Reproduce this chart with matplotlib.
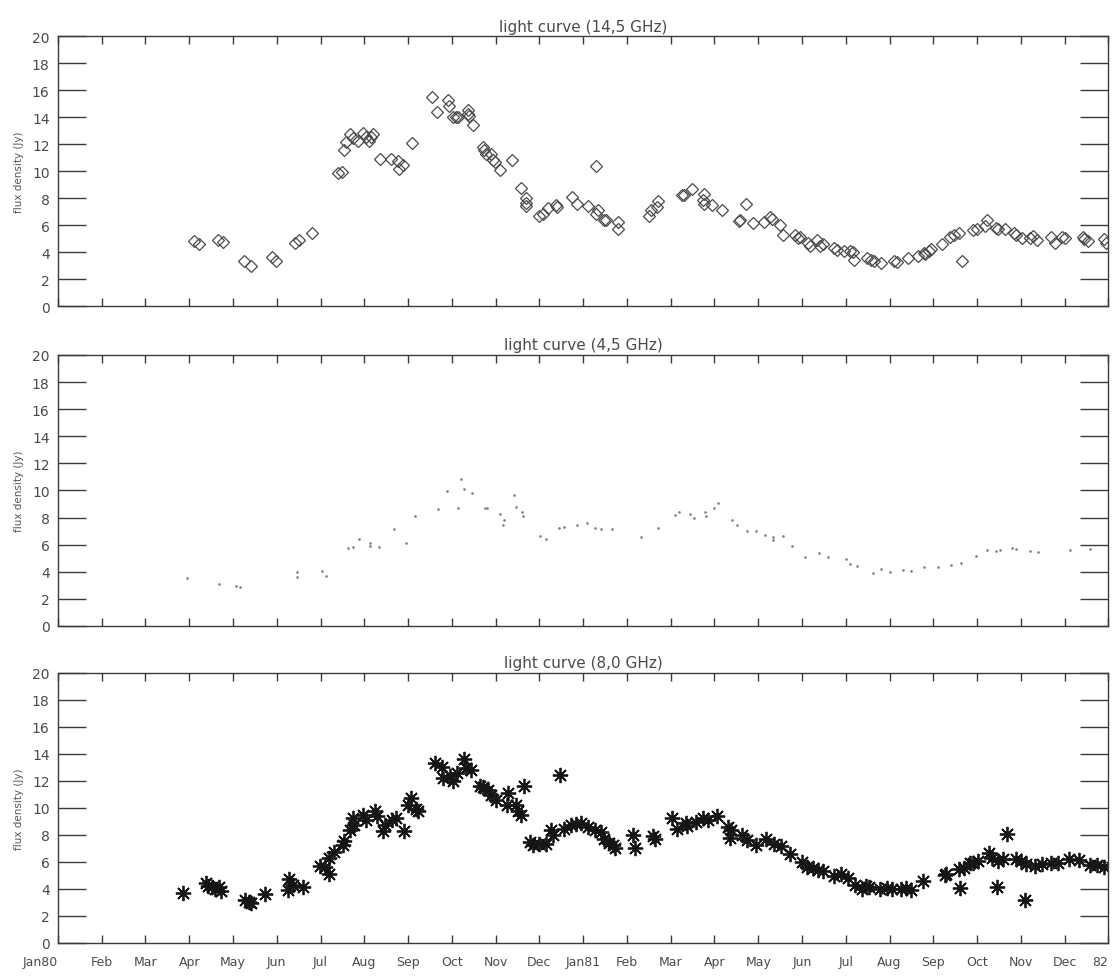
import numpy as np
import matplotlib.pyplot as plt

# time axis: months since 1 Jan 1980
month_names = ['Jan80', 'Feb', 'Mar', 'Apr', 'May', 'Jun', 'Jul', 'Aug', 'Sep', 'Oct', 'Nov', 'Dec',
               'Jan81', 'Feb', 'Mar', 'Apr', 'May', 'Jun', 'Jul', 'Aug', 'Sep', 'Oct', 'Nov', 'Dec', '82']

# 14.5 GHz
t145 = [3.11, 3.23, 3.66, 3.78, 4.24, 4.41, 4.90, 4.98, 5.41, 5.51, 5.81, 6.40, 6.49, 6.53, 6.59,
        6.67, 6.75, 6.85, 6.98, 7.03, 7.10, 7.15, 7.20, 7.36, 7.60, 7.76, 7.79, 7.89, 8.09, 8.54,
        8.66, 8.91, 8.93, 9.03, 9.09, 9.13, 9.37, 9.37, 9.39, 9.48, 9.70, 9.74, 9.78, 9.90, 9.94,
        9.98, 10.10, 10.37, 10.59, 10.70, 10.70, 10.70, 11.00, 11.08, 11.20, 11.38, 11.40, 11.74,
        11.86, 12.12, 12.29, 12.30, 12.35, 12.48, 12.52, 12.80, 12.80, 13.50, 13.56, 13.68, 13.71,
        14.26, 14.30, 14.48, 14.74, 14.77, 14.77, 14.94, 15.17, 15.56, 15.58, 15.71, 15.87, 16.14,
        16.27, 16.31, 16.50, 16.56, 16.84, 16.90, 16.96, 17.14, 17.19, 17.35, 17.40, 17.48, 17.73,
        17.80, 17.97, 18.09, 18.17, 18.19, 18.49, 18.57, 18.65, 18.80, 19.10, 19.16, 19.42, 19.66,
        19.78, 19.82, 19.90, 19.94, 20.20, 20.37, 20.47, 20.59, 20.65, 20.90, 20.99, 21.18, 21.22,
        21.42, 21.48, 21.64, 21.85, 21.88, 22.02, 22.20, 22.27, 22.36, 22.69, 22.77, 22.93, 23.01,
        23.41, 23.45, 23.53, 23.91, 23.94]
f145 = [4.80, 4.57, 4.86, 4.74, 3.34, 2.94, 3.62, 3.37, 4.70, 4.90, 5.45, 9.85, 9.97, 11.57, 12.18,
        12.78, 12.48, 12.20, 12.80, 12.50, 12.20, 12.56, 12.75, 10.87, 10.92, 10.72, 10.15, 10.42,
        12.10, 15.50, 14.40, 15.26, 14.80, 14.00, 14.00, 14.00, 14.50, 14.20, 14.05, 13.40, 11.78,
        11.53, 11.30, 11.30, 10.84, 10.64, 10.05, 10.85, 8.73, 8.00, 7.67, 7.40, 6.70, 6.82, 7.27,
        7.50, 7.36, 8.10, 7.55, 7.38, 10.35, 6.83, 7.15, 6.36, 6.40, 6.23, 5.70, 6.64, 7.12, 7.37,
        7.80, 8.20, 8.20, 8.70, 7.85, 8.30, 7.60, 7.50, 7.15, 6.30, 6.40, 7.60, 6.15, 6.20, 6.57,
        6.45, 6.00, 5.30, 5.27, 5.07, 5.15, 4.67, 4.43, 4.90, 4.44, 4.60, 4.32, 4.13, 4.05, 4.05,
        3.98, 3.42, 3.58, 3.39, 3.35, 3.20, 3.36, 3.30, 3.54, 3.72, 3.92, 3.88, 4.10, 4.20, 4.59,
        5.10, 5.27, 5.45, 3.35, 5.66, 5.73, 5.95, 6.40, 5.80, 5.70, 5.74, 5.40, 5.25, 5.03, 5.03,
        5.22, 4.93, 5.12, 4.71, 5.12, 5.05, 5.12, 4.98, 4.79, 5.00, 4.70]

# 4.5 GHz
t45 = [2.95, 3.68, 4.07, 4.15, 5.46, 5.46, 6.04, 6.12, 6.63, 6.73, 6.87, 7.14, 7.14, 7.33, 7.67,
       7.95, 8.15, 8.68, 8.90, 9.13, 9.21, 9.28, 9.47, 9.76, 9.80, 10.10, 10.18, 10.17, 10.43,
       10.47, 10.61, 10.62, 11.02, 11.16, 11.45, 11.57, 11.86, 12.08, 12.28, 12.40, 12.65, 13.33,
       13.72, 14.10, 14.18, 14.44, 14.54, 14.78, 14.80, 15.00, 15.09, 15.41, 15.51, 15.75, 15.95,
       16.15, 16.33, 16.33, 16.56, 16.76, 17.06, 17.39, 17.60, 18.00, 18.09, 18.25, 18.61, 18.81,
       19.02, 19.30, 19.50, 19.78, 20.10, 20.41, 20.63, 20.98, 21.22, 21.44, 21.52, 21.80, 21.88,
       22.20, 22.38, 23.13, 23.57]
f45 = [3.52, 3.06, 2.96, 2.90, 3.63, 4.00, 4.03, 3.67, 5.75, 5.83, 6.38, 6.15, 5.90, 5.86, 7.14,
       6.13, 8.13, 8.63, 9.98, 8.70, 10.84, 10.10, 9.83, 8.72, 8.72, 8.28, 7.84, 7.48, 9.67, 8.75,
       8.42, 8.10, 6.66, 6.43, 7.24, 7.33, 7.48, 7.56, 7.25, 7.13, 7.14, 6.56, 7.24, 8.18, 8.38,
       8.24, 7.96, 8.41, 8.15, 8.71, 9.07, 7.80, 7.47, 6.97, 6.98, 6.68, 6.57, 6.33, 6.63, 5.90,
       5.10, 5.35, 5.12, 4.93, 4.58, 4.41, 3.94, 4.20, 4.01, 4.14, 4.08, 4.33, 4.34, 4.50, 4.68,
       5.18, 5.62, 5.51, 5.60, 5.77, 5.70, 5.54, 5.43, 5.63, 5.69]

# 8.0 GHz
t80 = [2.85, 3.38, 3.44, 3.52, 3.59, 3.67, 3.73, 4.28, 4.36, 4.40, 4.74, 5.25, 5.29, 5.37, 5.60,
       5.98, 6.11, 6.19, 6.19, 6.31, 6.51, 6.53, 6.67, 6.76, 6.74, 6.96, 7.04, 7.24, 7.28, 7.43,
       7.47, 7.63, 7.73, 7.91, 7.99, 8.06, 8.18, 8.22, 8.61, 8.77, 8.80, 8.95, 9.03, 9.11, 9.28,
       9.32, 9.44, 9.64, 9.72, 9.83, 9.89, 10.01, 10.25, 10.29, 10.46, 10.50, 10.58, 10.64, 10.78,
       10.86, 10.98, 11.15, 11.27, 11.31, 11.47, 11.57, 11.72, 11.84, 11.96, 12.12, 12.28, 12.40,
       12.48, 12.60, 12.69, 12.73, 13.13, 13.19, 13.60, 13.65, 14.03, 14.14, 14.35, 14.38, 14.58,
       14.73, 14.86, 15.06, 15.31, 15.37, 15.35, 15.63, 15.75, 15.94, 16.18, 16.35, 16.52, 16.72,
       17.00, 17.12, 17.24, 17.36, 17.47, 17.73, 17.89, 18.05, 18.21, 18.37, 18.45, 18.53, 18.77,
       18.94, 19.06, 19.26, 19.38, 19.50, 19.76, 20.27, 20.30, 20.59, 20.61, 20.71, 20.83, 20.91,
       21.03, 21.27, 21.35, 21.45, 21.48, 21.60, 21.69, 21.88, 22.00, 22.10, 22.12, 22.32, 22.48,
       22.69, 22.85, 23.09, 23.33, 23.57, 23.73, 23.90]
f80 = [3.71, 4.46, 4.22, 4.10, 3.98, 4.10, 3.86, 3.16, 3.04, 2.92, 3.59, 3.92, 4.72, 4.25, 4.13,
       5.66, 5.59, 5.06, 6.28, 6.76, 7.26, 7.55, 8.36, 8.73, 9.21, 9.46, 9.11, 9.78, 9.36, 8.27,
       8.76, 9.13, 9.26, 8.29, 10.24, 10.73, 9.88, 9.77, 13.31, 13.06, 12.21, 12.35, 11.98, 12.60,
       13.64, 12.97, 12.78, 11.58, 11.53, 11.34, 10.93, 10.58, 10.22, 11.07, 10.23, 9.75, 9.50,
       11.63, 7.45, 7.22, 7.34, 7.35, 8.32, 7.97, 12.46, 8.45, 8.70, 8.81, 8.86, 8.58, 8.34, 8.22,
       7.68, 7.38, 7.27, 7.03, 8.01, 7.05, 7.91, 7.67, 9.26, 8.46, 8.91, 8.67, 8.92, 9.22, 9.13,
       9.38, 8.59, 8.35, 7.75, 8.00, 7.64, 7.23, 7.66, 7.35, 7.19, 6.58, 6.00, 5.63, 5.52, 5.40,
       5.29, 4.93, 5.06, 4.82, 4.26, 3.98, 4.22, 4.15, 4.00, 4.05, 4.00, 4.01, 4.06, 3.90, 4.57,
       5.02, 5.10, 5.45, 4.06, 5.53, 5.92, 5.94, 6.05, 6.65, 6.28, 4.10, 6.09, 6.17, 8.05, 6.18,
       6.07, 3.17, 5.82, 5.71, 5.84, 5.90, 5.90, 6.23, 6.16, 5.76, 5.76, 5.60]

ink = '#3a3a3a'
fig = plt.figure(figsize=(11.14, 9.78), dpi=100)

panels = [
    ([0.052, 0.686, 0.943, 0.276], 'light curve (14,5 GHz)'),
    ([0.052, 0.359, 0.943, 0.277], 'light curve (4,5 GHz)'),
    ([0.052, 0.035, 0.943, 0.276], 'light curve (8,0 GHz)'),
]

axes = []
for rect, title in panels:
    ax = fig.add_axes(rect)
    ax.set_xlim(0, 24)
    ax.set_ylim(0, 20)
    ax.set_title(title, fontsize=11, color='#4a4a4a', pad=4)
    ax.set_ylabel('flux density (Jy)', fontsize=7.5, color='#555555', labelpad=6)
    ax.set_yticks(np.arange(0, 21, 2))
    ax.set_xticks(np.arange(0, 25, 1))
    ax.tick_params(axis='y', direction='in', length=20, width=1.0, color=ink,
                   left=True, right=True, labelsize=10, labelcolor='#4a4a4a', pad=6)
    ax.tick_params(axis='x', direction='in', length=6, width=1.0, color=ink,
                   top=True, bottom=True, labelsize=9, labelcolor='#4a4a4a', pad=9)
    for s in ax.spines.values():
        s.set_color(ink)
        s.set_linewidth(1.0)
    ax.set_xticklabels([])
    axes.append(ax)

axes[0].plot(t145, f145, linestyle='none', marker='D', markersize=6.5, markerfacecolor='none',
             markeredgecolor='#4a4a4a', markeredgewidth=0.9)
axes[1].plot(t45, f45, linestyle='none', marker='.', markersize=1.8, color='#808080')
axes[2].plot(t80, f80, linestyle='none', marker=(8, 2, 0), markersize=11,
             markeredgecolor='#151515', markeredgewidth=1.3)

axes[2].set_xticklabels(month_names)
xlabels = axes[2].get_xticklabels()
xlabels[0].set_horizontalalignment('right')
xlabels[0].set_x(0.4)
xlabels[-1].set_horizontalalignment('right')

plt.savefig('out.png', dpi=100)
